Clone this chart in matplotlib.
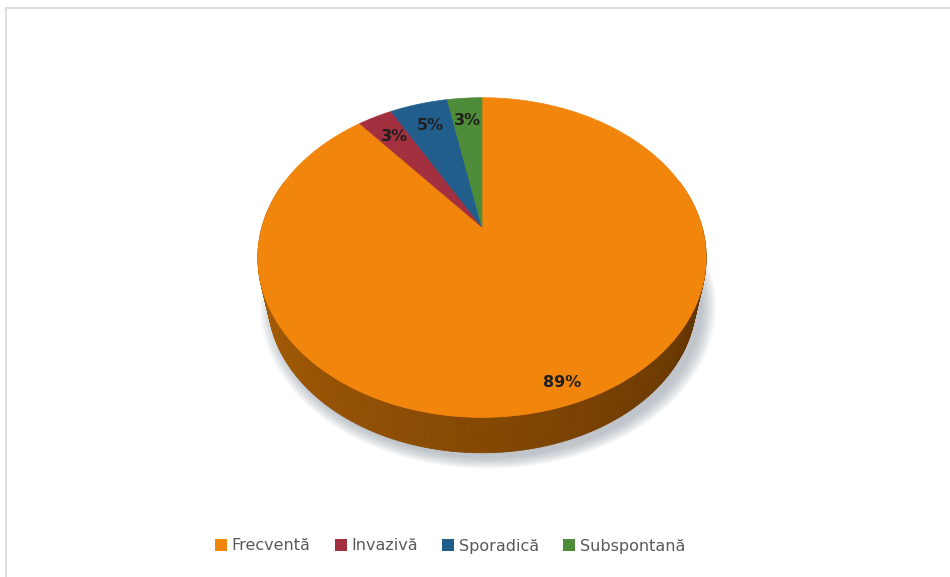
import numpy as np
import matplotlib
matplotlib.use("Agg")
import matplotlib.pyplot as plt
from matplotlib.patches import Polygon, Patch

# date din grafic
categorii = ["Frecventă", "Invazivă", "Sporadică", "Subspontană"]
procente = [89, 3, 5, 3]
culori = ["#F2850C", "#A3303F", "#215E8C", "#4F8C3A"]
raze_etichete = [0.9, 0.8, 0.8, 0.8]

# geometrie (pixeli)
CX, CY = 482, 227      # centrul placintei (varful feliilor)
A, B, K = 220, 154, 0.191
SCALA_JOS = 0.955      # discul de jos e mai departe de camera
DY_JOS = 44


def proiectie(u, v, jos=False):
    w = 1 + K * v
    if jos:
        return CX + SCALA_JOS * A * u / w, CY + DY_JOS - SCALA_JOS * B * v / w
    return CX + A * u / w, CY - B * v / w


def contur(t, jos=False):
    x, y = proiectie(np.cos(t), np.sin(t), jos)
    return np.column_stack([x, y])


def culoare_lateral(t):
    # stanga mai deschis, dreapta mai inchis
    f = np.clip((np.degrees(t) % 360 - 180) / 180, 0, 1)
    c0 = np.array([0xB0, 0x62, 0x06]) / 255
    c1 = np.array([0x58, 0x2E, 0x00]) / 255
    return tuple(c0 + (c1 - c0) * f)


fig = plt.figure(figsize=(9.5, 5.77), dpi=100)
ax = fig.add_axes([0, 0, 1, 1])
ax.set_xlim(0, 950)
ax.set_ylim(577, 0)
ax.axis("off")

# chenar
ax.plot([6, 6], [577, 7.5], color="#d9d9d9", lw=1.2)
ax.plot([6, 950], [7.5, 7.5], color="#d9d9d9", lw=1.2)

# umbra
tt = np.linspace(0, 2 * np.pi, 300)
baza = contur(tt, True)
cy_b = baza[:, 1].mean()
for i in range(14):
    s = 1 + 0.005 * i
    pts = baza.copy()
    pts[:, 0] = CX + (pts[:, 0] - CX) * s + 6
    pts[:, 1] = cy_b + (pts[:, 1] - cy_b) * s + 5
    ax.add_patch(Polygon(pts, closed=True, fc="#8e9aa6", ec="none", alpha=0.05, zorder=1))

# partea laterala
unghiuri = np.linspace(np.pi * 0.9, np.pi * 2.1, 260)
segmente = []
for t0, t1 in zip(unghiuri[:-1], unghiuri[1:]):
    sus = contur(np.array([t0, t1]))
    jos = contur(np.array([t1, t0]), True)
    segmente.append((np.sin((t0 + t1) / 2), np.vstack([sus, jos]), culoare_lateral((t0 + t1) / 2)))
for _, pts, c in sorted(segmente, key=lambda s: -s[0]):
    ax.add_patch(Polygon(pts, closed=True, fc=c, ec=c, lw=0.6, zorder=2))

# felii
cum = np.concatenate([[0], np.cumsum(procente)]) / sum(procente)
for i, c in enumerate(culori):
    t_start = np.pi / 2 - 2 * np.pi * cum[i]
    t_end = np.pi / 2 - 2 * np.pi * cum[i + 1]
    t = np.linspace(t_start, t_end, max(int(abs(t_end - t_start) * 80), 4))
    pts = np.vstack([[CX, CY], contur(t)])
    ax.add_patch(Polygon(pts, closed=True, fc=c, ec=c, lw=0.5, zorder=3))

    mid = (t_start + t_end) / 2
    r = raze_etichete[i]
    lx, ly = proiectie(r * np.cos(mid), r * np.sin(mid))
    ax.text(lx, ly, f"{procente[i]}%", ha="center", va="center", fontsize=11.5,
            fontweight="bold", color="#1f1f1f", zorder=5)

# legenda
manere = [Patch(fc=c, ec="none") for c in culori]
fig.legend(manere, categorii, loc="center", bbox_to_anchor=(450 / 950, 1 - 546 / 577),
           ncol=4, frameon=False, fontsize=11.5, labelcolor="#595959",
           handlelength=0.75, handleheight=0.75, handletextpad=0.3, columnspacing=1.5)

fig.savefig("out.png", dpi=100)
